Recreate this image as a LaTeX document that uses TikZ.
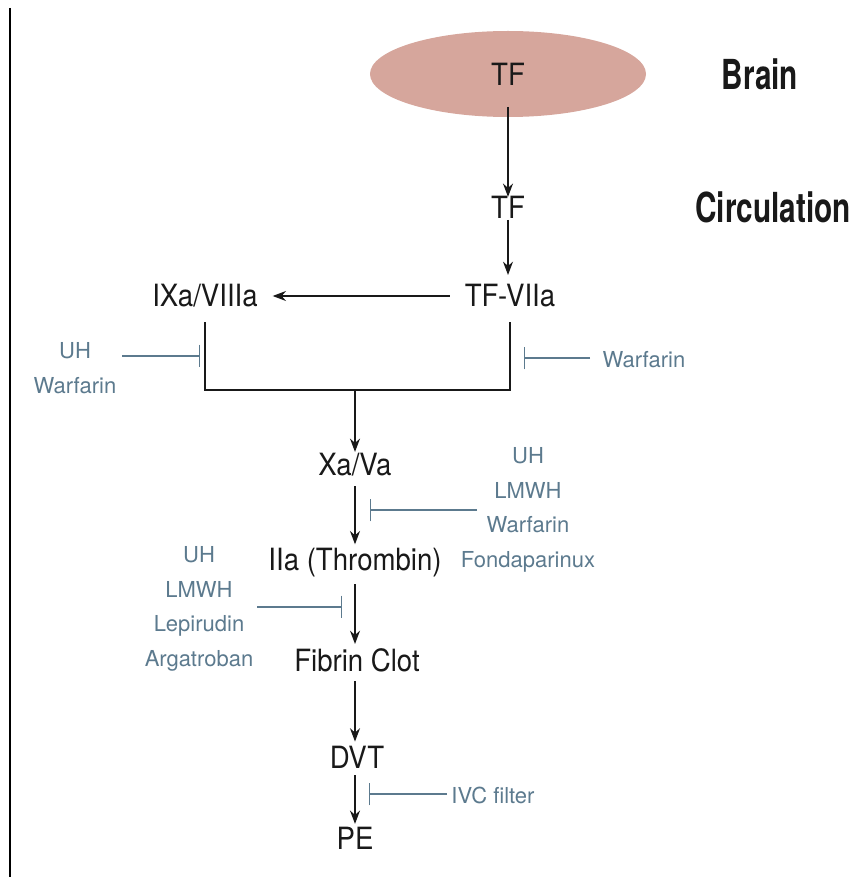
\documentclass[tikz,border=0pt]{standalone}
\usepackage{fontspec}
\setmainfont{TeX Gyre Heros}
\newfontfamily\condfont[FakeStretch=0.72]{TeX Gyre Heros}
\newfontfamily\labfont[FakeStretch=0.9]{TeX Gyre Heros}
\usetikzlibrary{arrows.meta,shapes.geometric}
\definecolor{brainfill}{HTML}{D6A69C}
\definecolor{drug}{HTML}{5C7A8E}
\tikzset{
  factor/.style={font=\labfont\fontsize{23}{25}\selectfont, text=black!90, inner sep=1pt},
  region/.style={font=\condfont\bfseries\fontsize{31}{33}\selectfont, text=black!90, inner sep=0pt},
  agent/.style={font=\fontsize{16.5}{26}\selectfont, text=drug, align=center, inner sep=0pt},
  flow/.style={draw=black!90, line width=1pt, -{Stealth[length=10pt,width=7.5pt]}},
  wire/.style={draw=black!90, line width=1pt},
  block/.style={draw=drug, line width=1.1pt, -{Bar[width=17pt]}},
}
\begin{document}
\begin{tikzpicture}[x=0.75pt,y=-0.75pt]
\useasboundingbox (0,0) rectangle (860,877);
% frame rule on the left
\coordinate (ruletop) at (10,8);
\coordinate (rulebot) at (10,877);
\draw[black, line width=1.2pt] (ruletop) -- (rulebot);

% brain compartment
\node[ellipse, fill=brainfill, minimum width=276*0.75pt, minimum height=86*0.75pt, inner sep=0pt] (brain) at (508,74) {};
\node[factor] (tf1) at (508,74) {TF};
\node[region] (lbrain) at (760,74) {Brain};
\node[region] (lcirc) at (773,207) {Circulation};

% cascade
\node[factor] (tf2) at (508,207) {TF};
\node[factor] (tf7) at (510,296) {TF-VIIa};
\node[factor] (ix) at (205,296) {IXa/VIIIa};
\node[factor] (xa) at (355,465) {Xa/Va};
\node[factor] (iia) at (355,563) {IIa (Thrombin)};
\node[factor] (fib) at (357,660) {Fibrin Clot};
\node[factor] (dvt) at (357,757) {DVT};
\node[factor] (pe) at (355,838) {PE};

\coordinate (tfout) at (508,107);
\draw[flow] (tfout) -- ([yshift=-2pt]tf2.north);
\draw[flow] (tf2.south) -- ([yshift=6pt]tf7.north -| tf2);
\draw[flow] ([xshift=-10pt]tf7.west) -- ([xshift=10pt]ix.east);

% convergence onto Xa/Va
\coordinate (jl) at (205,390);
\coordinate (jr) at (510,390);
\coordinate (jm) at (355,390);
\draw[wire] ([yshift=-10pt]ix.south) -- (jl) -- (jr) -- ([yshift=-10pt]tf7.south);
\draw[flow] (jm) -- (xa.north);

\draw[flow] ([yshift=-6pt]xa.south) -- ([yshift=2pt]iia.north);
\draw[flow] ([yshift=-4pt]iia.south -| xa) -- ([yshift=2pt]fib.north -| xa);
\draw[flow] ([yshift=-6pt]fib.south -| xa) -- ([yshift=2pt]dvt.north -| xa);
\draw[flow] ([yshift=-4pt]dvt.south -| xa) -- ([yshift=1pt]pe.north);

% inhibitors
\node[agent] (a1) at (75,368) {UH\\Warfarin};
\coordinate (s1) at (122,356);
\coordinate (b1) at (200,356);
\draw[block] (s1) -- (b1);

\node[agent] (a2) at (644,360) {Warfarin};
\coordinate (s2) at (590,358);
\coordinate (b2) at (524,358);
\draw[block] (s2) -- (b2);

\node[agent] (a3) at (528,510) {UH\\LMWH\\Warfarin\\Fondaparinux};
\coordinate (s3) at (477,510);
\coordinate (b3) at (370,510);
\draw[block] (s3) -- (b3);

\node[agent] (a4) at (199,609) {UH\\LMWH\\Lepirudin\\Argatroban};
\coordinate (s4) at (257,607);
\coordinate (b4) at (342,607);
\draw[block] (s4) -- (b4);

\node[agent] (a5) at (493,795) {IVC filter};
\coordinate (s5) at (447,794);
\coordinate (b5) at (369,794);
\draw[block] (s5) -- (b5);
\end{tikzpicture}
\end{document}
